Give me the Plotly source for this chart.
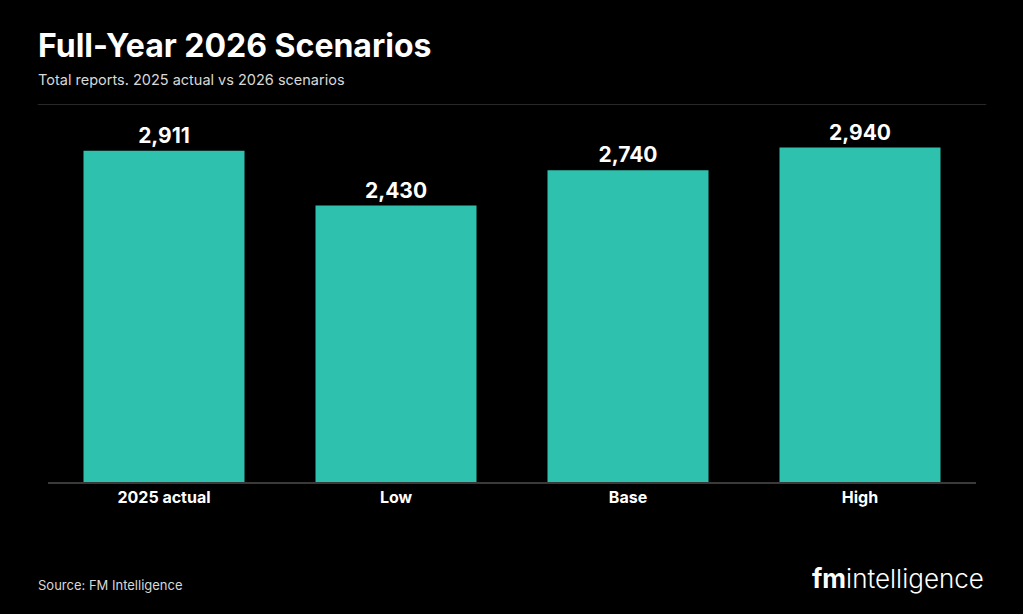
import plotly.graph_objects as go

# data
categories = ["2025 actual", "Low", "Base", "High"]
reports = [2911, 2430, 2740, 2940]
value_labels = ["2,911", "2,430", "2,740", "2,940"]

BG = "#000000"
TEAL = "#2EC1AE"
FONT = "Inter"

fig = go.Figure(go.Bar(
    x=categories,
    y=reports,
    text=value_labels,
    textposition="outside",
    textfont=dict(family=FONT, size=21, color="white", weight="bold"),
    cliponaxis=False,
    marker=dict(color=TEAL, line=dict(width=0)),
    hoverinfo="skip",
))

fig.update_layout(
    width=1023, height=614,
    paper_bgcolor=BG, plot_bgcolor=BG,
    margin=dict(l=48, r=47, t=118, b=132),
    bargap=0.306,
    showlegend=False,
    xaxis=dict(
        showline=True, linecolor="#3a3a3a", linewidth=1.5,
        showgrid=False, ticks="", zeroline=False,
        tickfont=dict(family=FONT, size=16, color="white", weight="bold"),
    ),
    yaxis=dict(
        range=[0, 3200], visible=False, showgrid=False, zeroline=False,
    ),
    font=dict(family=FONT, color="white"),
)

# title, subtitle, separator, footer
fig.add_annotation(
    text="<b>Full-Year 2026 Scenarios</b>", xref="paper", yref="paper",
    x=0, xshift=-12, y=1, yshift=73, xanchor="left", yanchor="middle",
    showarrow=False, font=dict(family=FONT, size=32, color="white"),
)
fig.add_annotation(
    text="Total reports. 2025 actual vs 2026 scenarios", xref="paper", yref="paper",
    x=0, xshift=-12, y=1, yshift=39, xanchor="left", yanchor="middle",
    showarrow=False, font=dict(family=FONT, size=14.5, color="#d8d8d8"),
)
fig.add_shape(
    type="line", xref="paper", yref="paper", x0=-0.011, x1=1.011, y0=1.037, y1=1.037,
    line=dict(color="#2a2a2a", width=1),
)
fig.add_annotation(
    text="Source: FM Intelligence", xref="paper", yref="paper",
    x=0, xshift=-12, y=0, yshift=-103, xanchor="left", yanchor="middle",
    showarrow=False, font=dict(family=FONT, size=13, color="#d8d8d8"),
)
fig.add_annotation(
    text="<b>fm</b>intelligence", xref="paper", yref="paper",
    x=1, xshift=10, y=0, yshift=-96, xanchor="right", yanchor="middle",
    showarrow=False, font=dict(family=FONT, size=26, color="white", weight=300),
)

# drop the page's default white margin so the black card fills the window
fig.write_html(
    "out.html",
    config={"displayModeBar": False},
    post_script="document.body.style.margin='0';document.body.style.background='#000';",
)
